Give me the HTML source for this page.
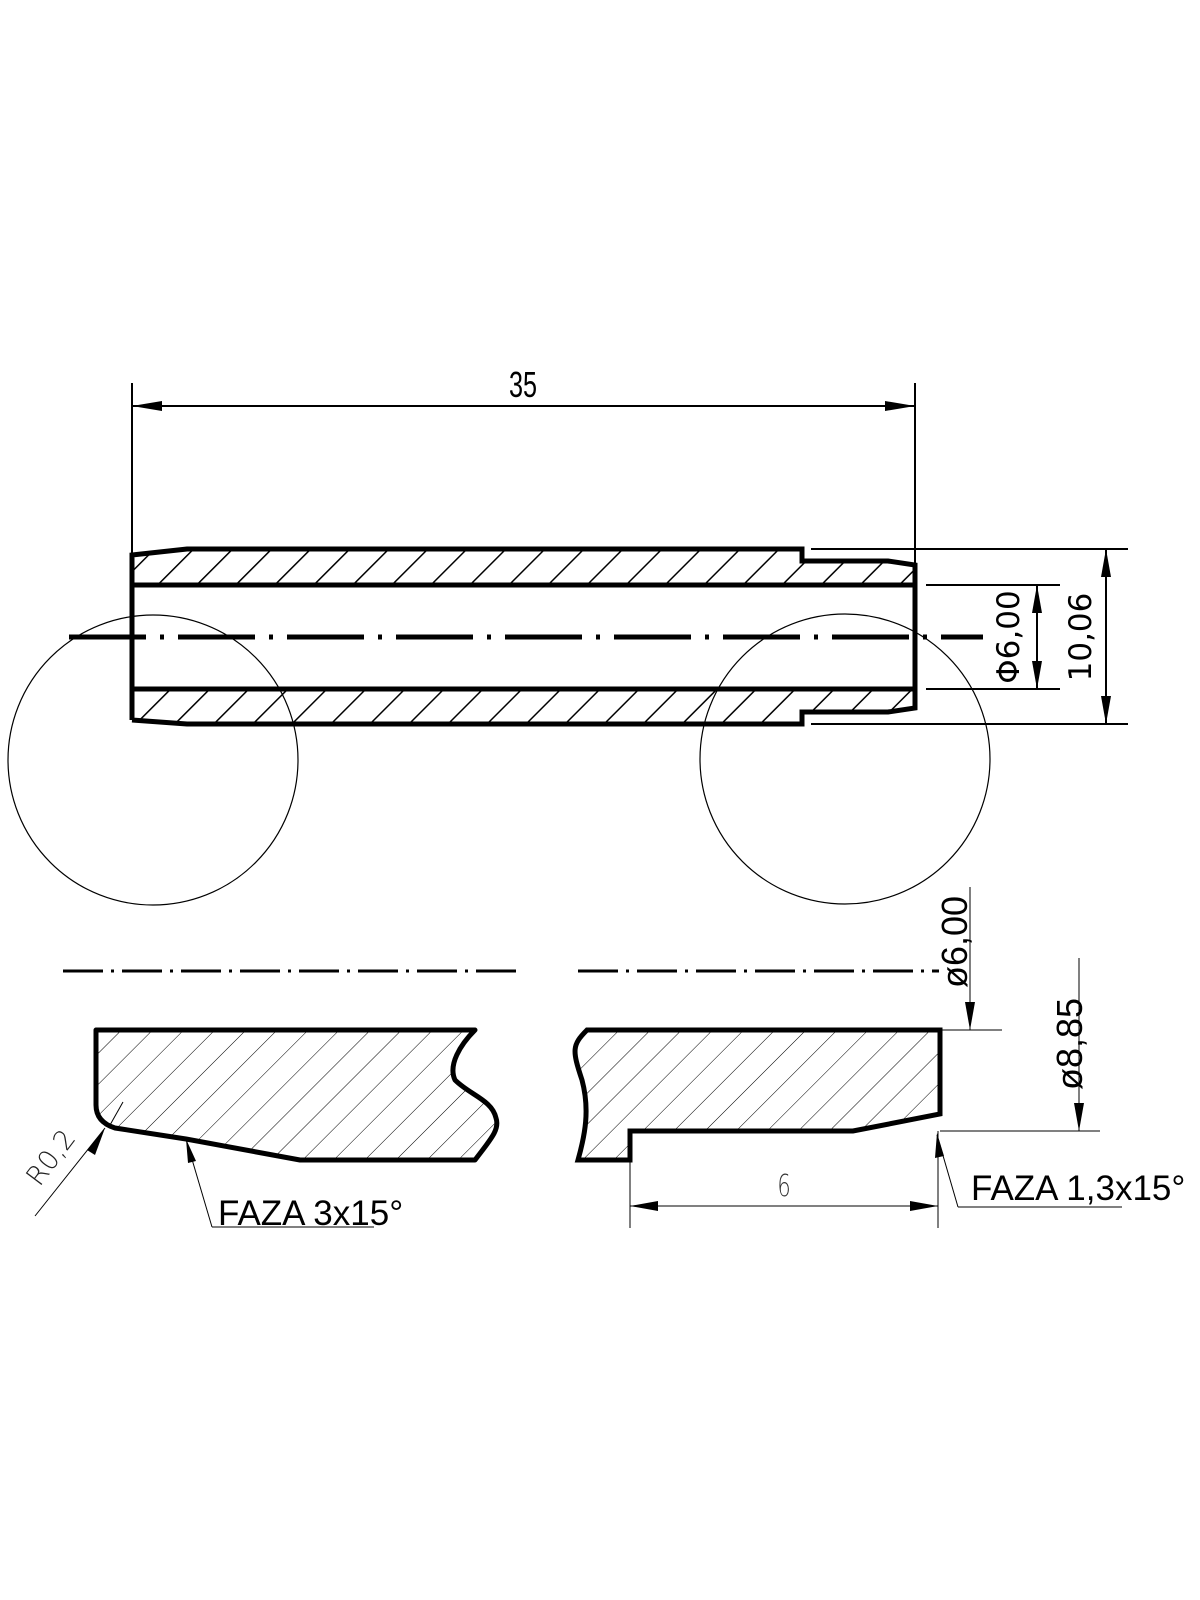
<!DOCTYPE html>
<html><head><meta charset="utf-8"><style>html,body{margin:0;padding:0;background:#fff}svg{display:block}</style></head>
<body>
<svg width="1200" height="1600" viewBox="0 0 1200 1600" xmlns="http://www.w3.org/2000/svg">
<defs>
<clipPath id="cTop"><polygon points="132,555 187,549 802,549 802,561 888,561 915,565 915,585 132,585"/></clipPath>
<clipPath id="cBot"><polygon points="132,689 915,689 915,708 888,712 802,712 802,724 187,724 132,720"/></clipPath>
<clipPath id="cL"><path d="M96,1030 L475,1030 C460,1045 448,1065 455,1080 C470,1095 492,1100 496,1118 C500,1130 490,1140 475,1160 L300,1160 L186,1139 L115,1128 Q96,1122 96,1105 Z"/></clipPath>
<clipPath id="cR"><path d="M587,1030 L940,1030 L940,1114 L853,1131 L630,1131 L630,1160 L578,1160 C585,1135 590,1110 582,1080 C572,1050 572,1045 587,1030 Z"/></clipPath>
<pattern id="hTop" patternUnits="userSpaceOnUse" width="27.6" height="27.6" patternTransform="rotate(45 0 0)"><line x1="0" y1="0" x2="0" y2="27.6" stroke="#000" stroke-width="3"/></pattern>
<pattern id="hThin" patternUnits="userSpaceOnUse" width="22" height="22" patternTransform="rotate(45 0 0)"><line x1="0" y1="0" x2="0" y2="22" stroke="#000" stroke-width="1"/></pattern>
</defs>

<circle cx="153" cy="760" r="145" fill="none" stroke="#000" stroke-width="1.2"/>
<circle cx="845" cy="759" r="145" fill="none" stroke="#000" stroke-width="1.2"/>

<rect x="120" y="540" width="810" height="50" fill="url(#hTop)" clip-path="url(#cTop)"/>
<rect x="120" y="685" width="810" height="45" fill="url(#hTop)" clip-path="url(#cBot)"/>

<g fill="none" stroke="#000" stroke-width="5" stroke-linejoin="miter">
<polyline points="132,720 132,555 187,549 802,549 802,561 888,561 915,565 915,708 888,712 802,712 802,724 187,724 132,720"/>
<line x1="132" y1="585" x2="915" y2="585"/>
<line x1="132" y1="689" x2="915" y2="689"/>
</g>
<line x1="69" y1="637" x2="983" y2="637" stroke="#000" stroke-width="5" stroke-dasharray="77 14 4 14"/>

<g stroke="#000" stroke-width="2" fill="none">
<line x1="132" y1="383" x2="132" y2="553"/>
<line x1="915" y1="383" x2="915" y2="563"/>
<line x1="132" y1="406" x2="915" y2="406"/>
<line x1="811" y1="549" x2="1128" y2="549"/>
<line x1="811" y1="724" x2="1128" y2="724"/>
<line x1="926" y1="585" x2="1060" y2="585"/>
<line x1="926" y1="689" x2="1060" y2="689"/>
<line x1="1106" y1="549" x2="1106" y2="724"/>
<line x1="1037" y1="585" x2="1037" y2="689"/>
</g>
<g fill="#000">
<polygon points="132,406 162,401 162,411"/>
<polygon points="915,406 885,401 885,411"/>
<polygon points="1106,549 1101,577 1111,577"/>
<polygon points="1106,724 1101,696 1111,696"/>
<polygon points="1037,585 1032,613 1042,613"/>
<polygon points="1037,689 1032,661 1042,661"/>
</g>
<text x="523" y="397" font-family="Liberation Sans, sans-serif" font-size="36" text-anchor="middle" transform="translate(523 0) scale(0.7 1) translate(-523 0)">35</text>
<text x="0" y="0" font-family="DejaVu Sans, sans-serif" font-size="31" text-anchor="middle" transform="translate(1019 637) rotate(-90)">Φ6,00</text>
<text x="0" y="0" font-family="DejaVu Sans, sans-serif" font-size="31" text-anchor="middle" transform="translate(1091 637) rotate(-90)">10,06</text>

<line x1="63" y1="971" x2="517" y2="971" stroke="#000" stroke-width="3" stroke-dasharray="40 8 3 8"/>
<line x1="578" y1="971" x2="939" y2="971" stroke="#000" stroke-width="3" stroke-dasharray="40 8 3 8"/>

<rect x="90" y="1025" width="420" height="140" fill="url(#hThin)" clip-path="url(#cL)"/>
<path d="M96,1030 L475,1030 C460,1045 448,1065 455,1080 C470,1095 492,1100 496,1118 C500,1130 490,1140 475,1160 L300,1160 L186,1139 L115,1128 Q96,1122 96,1105 Z" fill="none" stroke="#000" stroke-width="5" stroke-linejoin="round"/>

<rect x="565" y="1025" width="380" height="140" fill="url(#hThin)" clip-path="url(#cR)"/>
<path d="M587,1030 L940,1030 L940,1114 L853,1131 L630,1131 L630,1160 L578,1160 C585,1135 590,1110 582,1080 C572,1050 572,1045 587,1030 Z" fill="none" stroke="#000" stroke-width="5" stroke-linejoin="miter"/>

<g stroke="#000" stroke-width="1" fill="none">
<line x1="35" y1="1216" x2="105" y2="1128"/>
<line x1="110" y1="1125" x2="123" y2="1102"/>
<line x1="186" y1="1139" x2="212" y2="1227"/>
<line x1="212" y1="1227" x2="374" y2="1227"/>
<line x1="970" y1="887" x2="970" y2="1030"/>
<line x1="940" y1="1030" x2="1002" y2="1030"/>
<line x1="1079" y1="958" x2="1079" y2="1131"/>
<line x1="940" y1="1131" x2="1100" y2="1131"/>
<line x1="630" y1="1160" x2="630" y2="1228"/>
<line x1="938" y1="1131" x2="938" y2="1228"/>
<line x1="630" y1="1206" x2="938" y2="1206"/>
<line x1="937" y1="1135" x2="958" y2="1207"/>
<line x1="958" y1="1207" x2="1122" y2="1207"/>
</g>
<g fill="#000">
<polygon points="105,1128 87,1150 95,1155"/>
<polygon points="186,1139 188,1163 196,1161"/>
<polygon points="970,1030 965,1002 975,1002"/>
<polygon points="1079,1131 1074,1103 1084,1103"/>
<polygon points="630,1206 658,1201 658,1211"/>
<polygon points="938,1206 910,1201 910,1211"/>
<polygon points="937,1133 935,1158 944,1156"/>
</g>
<text x="0" y="0" font-family="DejaVu Sans, sans-serif" font-size="27" font-weight="200" fill="#222" text-anchor="middle" transform="translate(58 1163) rotate(-53)">R0,2</text>
<text x="218" y="1225" font-family="Liberation Sans, sans-serif" font-size="35">FAZA 3x15°</text>
<text x="971" y="1200" font-family="Liberation Sans, sans-serif" font-size="35">FAZA 1,3x15°</text>
<text x="0" y="0" font-family="Liberation Sans, sans-serif" font-size="36" text-anchor="middle" transform="translate(967 942) rotate(-90)">ø6,00</text>
<text x="0" y="0" font-family="Liberation Sans, sans-serif" font-size="36" text-anchor="middle" transform="translate(1082 1044) rotate(-90)">ø8,85</text>
<text x="784" y="1196" font-family="DejaVu Sans, sans-serif" font-size="30" font-weight="200" fill="#333" text-anchor="middle" transform="translate(784 0) scale(0.7 1) translate(-784 0)">6</text>
</svg>
</body></html>
